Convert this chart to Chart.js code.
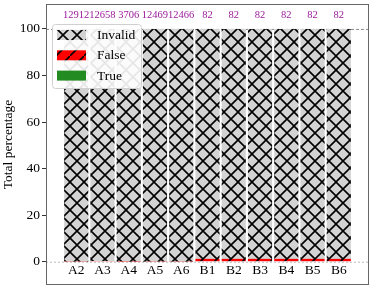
<!DOCTYPE html>
<html lang="en">
  <head>
    <meta charset="UTF-8" />
    <title>Total percentage</title>
    <script src="https://cdn.jsdelivr.net/npm/chart.js"></script>
    <style>
      html, body { margin: 0; padding: 0; background: #fff; }
      #wrap { width: 374px; height: 292px; }
    </style>
  </head>
  <body>
    <div id="wrap"><canvas id="chart" width="374" height="292"></canvas></div>
    <script>
      // categories and values (percent of samples)
      const categories = ["A2", "A3", "A4", "A5", "A6", "B1", "B2", "B3", "B4", "B5", "B6"];
      const counts = ["12912", "12658", "3706", "12469", "12466", "82", "82", "82", "82", "82", "82"];
      const trueVals = [0, 0, 0, 0, 0, 0, 0, 0, 0, 0, 0];
      const falseVals = [0.1, 0.3, 0.05, 0.1, 0.1, 1.22, 1.22, 1.22, 1.22, 1.22, 1.22];
      const invalidVals = [99.9, 99.7, 99.95, 99.9, 99.9, 98.78, 98.78, 98.78, 98.78, 98.78, 98.78];
      const yTicks = [0, 20, 40, 60, 80, 100];

      const FONT = "'Liberation Serif', 'Times New Roman', serif";

      function hatch(bg, cross) {
        const c = document.createElement("canvas");
        c.width = 14;
        c.height = 14;
        const g = c.getContext("2d");
        g.fillStyle = bg;
        g.fillRect(0, 0, 14, 14);
        g.strokeStyle = "#000";
        g.lineWidth = 1.6;
        g.beginPath();
        g.moveTo(-1, 15); g.lineTo(15, -1);
        if (cross) { g.moveTo(-1, -1); g.lineTo(15, 15); }
        g.stroke();
        return g.createPattern(c, "repeat");
      }

      const invalidFill = hatch("#d3d3d3", true);
      const falseFill = hatch("#ff0000", false);

      const pts = (arr) => arr.map((v, i) => ({ x: i, y: v }));

      // dashed reference lines, frame, counts, legend
      const extras = {
        id: "extras",
        beforeDatasetsDraw(chart) {
          const { ctx, chartArea: a, scales } = chart;
          const y100 = scales.y.getPixelForValue(100);
          const y0 = scales.y.getPixelForValue(0);
          ctx.save();
          ctx.lineWidth = 1;
          ctx.strokeStyle = "#888";
          ctx.setLineDash([3, 2]);
          ctx.beginPath();
          ctx.moveTo(a.left, y100 + 0.5); ctx.lineTo(a.right, y100 + 0.5);
          ctx.stroke();
          ctx.strokeStyle = "#bbb";
          ctx.setLineDash([2, 2]);
          ctx.beginPath();
          ctx.moveTo(a.left, y0 + 0.5); ctx.lineTo(a.right, y0 + 0.5);
          ctx.stroke();
          ctx.restore();
        },
        afterDraw(chart) {
          const { ctx, chartArea: a, scales } = chart;
          ctx.save();
          // counts above bars
          ctx.fillStyle = "#9a1a9a";
          ctx.font = "10.5px " + FONT;
          ctx.textAlign = "center";
          ctx.textBaseline = "middle";
          const yc = scales.y.getPixelForValue(106);
          counts.forEach((t, i) => ctx.fillText(t, scales.x.getPixelForValue(i), yc));

          // legend box
          const lx = 52.5, ly = 24.5, lw = 89, lh = 64;
          ctx.fillStyle = "rgba(255,255,255,0.9)";
          ctx.strokeStyle = "#d0d0d0";
          ctx.lineWidth = 1;
          ctx.beginPath();
          ctx.roundRect(lx, ly, lw, lh, 3);
          ctx.fill();
          ctx.stroke();
          const items = chart.data.datasets.slice().reverse();
          ctx.font = "13.5px " + FONT;
          ctx.textAlign = "left";
          items.forEach((ds, k) => {
            const cy = 35 + k * 20.3;
            ctx.fillStyle = ds.backgroundColor;
            ctx.fillRect(57, cy - 5, 29, 10);
            ctx.fillStyle = "#000";
            ctx.fillText(ds.label, 97, cy + 0.5);
          });

          // frame
          ctx.strokeStyle = "#666";
          ctx.lineWidth = 1;
          ctx.strokeRect(a.left + 0.5, a.top + 0.5, a.right - a.left - 1, a.bottom - a.top - 1);
          ctx.restore();
        },
      };

      new Chart(document.getElementById("chart"), {
        type: "bar",
        data: {
          datasets: [
            { label: "True", data: pts(trueVals), backgroundColor: "#228b22", stack: "s" },
            { label: "False", data: pts(falseVals), backgroundColor: falseFill, stack: "s" },
            { label: "Invalid", data: pts(invalidVals), backgroundColor: invalidFill, stack: "s" },
          ],
        },
        options: {
          responsive: false,
          animation: false,
          events: [],
          categoryPercentage: 1,
          barPercentage: 0.92,
          layout: { padding: { left: 0, right: 5, top: 4, bottom: 7 } },
          plugins: { legend: { display: false }, tooltip: { enabled: false } },
          scales: {
            x: {
              type: "linear",
              position: { y: 0 },
              min: -1.15,
              max: 11.15,
              offset: false,
              stacked: true,
              afterBuildTicks: (s) => { s.ticks = categories.map((_, i) => ({ value: i })); },
              afterFit: (s) => { s.paddingLeft = 0; s.paddingRight = 0; },
              ticks: {
                autoSkip: false,
                maxRotation: 0,
                padding: 1,
                color: "#000",
                font: { family: FONT, size: 13.5 },
                callback: (v) => categories[v],
              },
              grid: { display: false, drawTicks: false },
              border: { display: false },
            },
            y: {
              min: -10,
              max: 110.7,
              stacked: true,
              afterBuildTicks: (s) => { s.ticks = yTicks.map((v) => ({ value: v })); },
              afterFit: (s) => { s.width = 46; s.paddingTop = 0; s.paddingBottom = 0; },
              ticks: {
                padding: 2,
                color: "#000",
                font: { family: FONT, size: 13.5 },
              },
              grid: { drawOnChartArea: false, drawTicks: true, tickLength: 4, color: "#333" },
              border: { display: false },
              title: {
                display: true,
                text: "Total percentage",
                color: "#000",
                font: { family: FONT, size: 13.5 },
                padding: { top: 0, bottom: 0 },
              },
            },
          },
        },
        plugins: [extras],
      });
    </script>
  </body>
</html>
